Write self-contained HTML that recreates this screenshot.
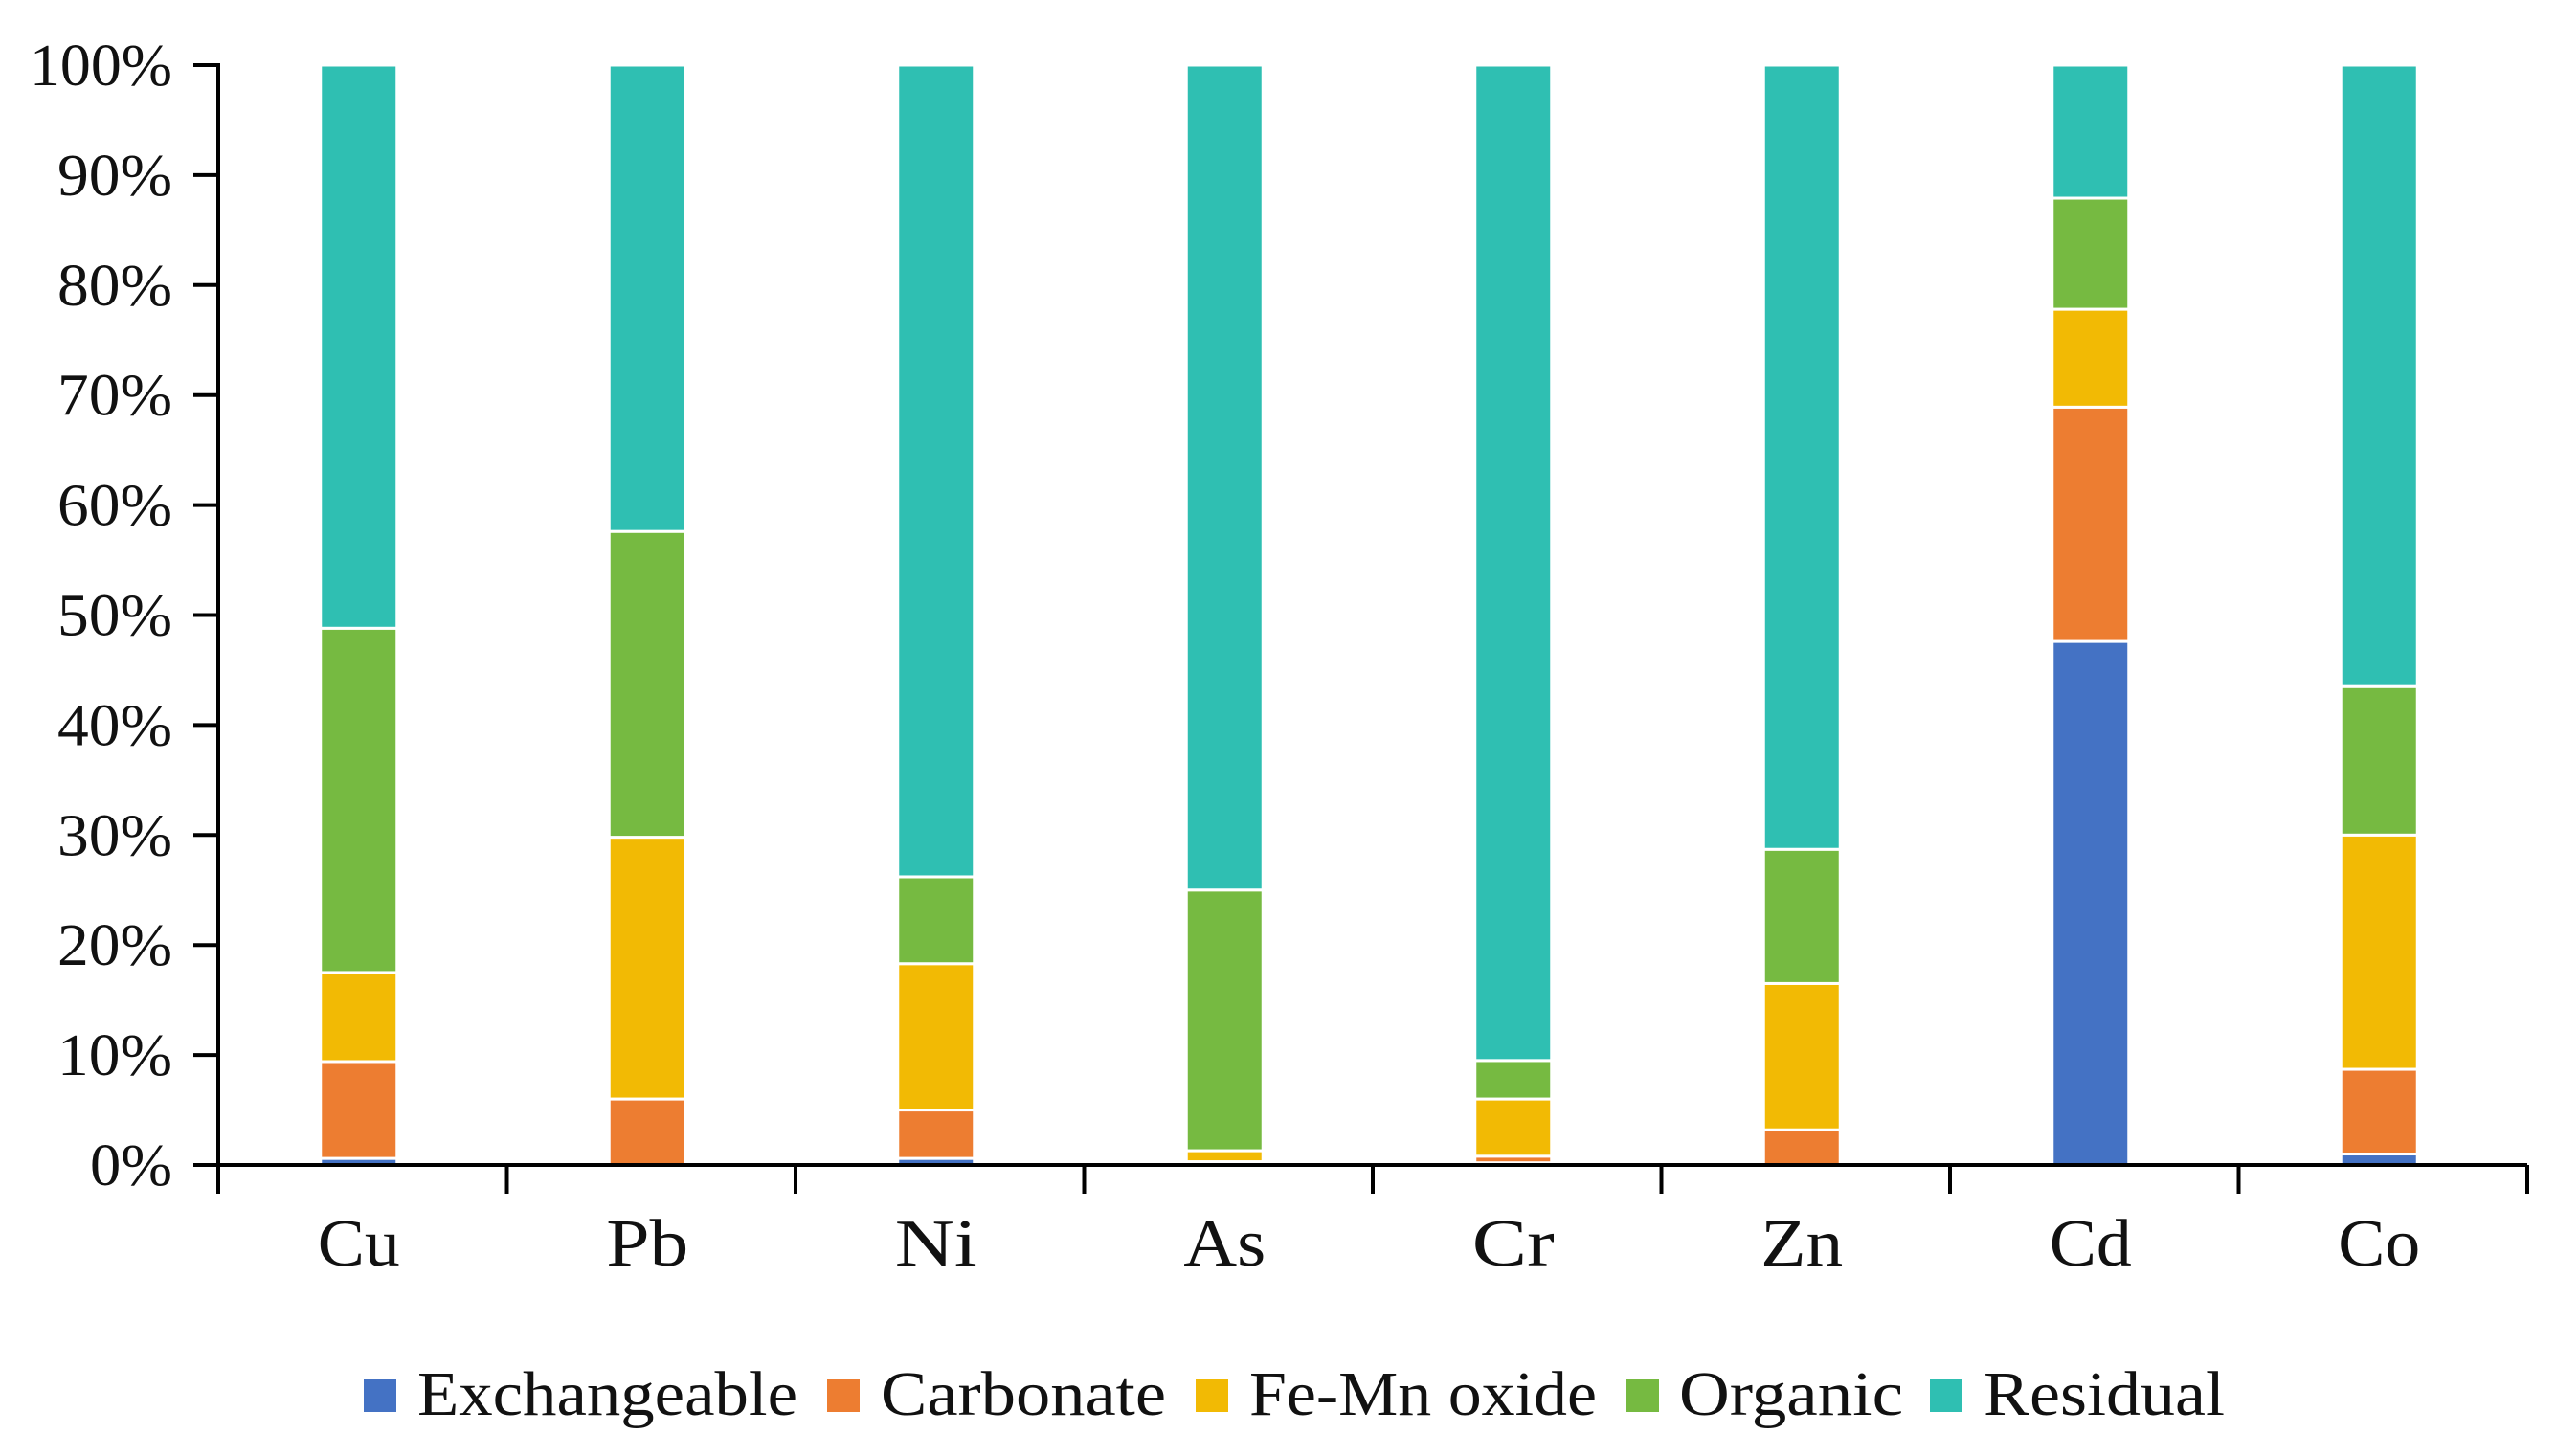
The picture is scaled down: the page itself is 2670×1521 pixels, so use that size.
<!DOCTYPE html>
<html><head><meta charset="utf-8"><style>
html,body{margin:0;padding:0;background:#fff;}
svg{display:block;}
text{font-family:"Liberation Serif",serif;fill:#111;}
</style></head><body>
<svg id="chart" width="2670" height="1521" viewBox="0 0 2670 1521" xmlns="http://www.w3.org/2000/svg">
<g id="bars"></g>
<g id="axes"></g>
<g id="legend"></g>
</svg>
<script>
const categories = ["Cu","Pb","Ni","As","Cr","Zn","Cd","Co"];
const seriesNames = ["Exchangeable","Carbonate","Fe-Mn oxide","Organic","Residual"];
const exchangeable = [0.6, 0.0, 0.6, 0.2, 0.2, 0.0, 47.6, 1.0];
const carbonate    = [8.8, 6.0, 4.4, 0.1, 0.6, 3.2, 21.3, 7.7];
const femnOxide    = [8.1, 23.8, 13.3, 1.0, 5.2, 13.3, 8.9, 21.3];
const organic      = [31.3, 27.8, 7.9, 23.7, 3.5, 12.2, 10.1, 13.5];
const residual     = [51.2, 42.4, 73.8, 75.0, 90.5, 71.3, 12.1, 56.5];
const yTicks = [0,10,20,30,40,50,60,70,80,90,100];
const colors = ["#4472C4","#ED7D31","#F2BA04","#76BA41","#2FBFB2"];
const series = [exchangeable, carbonate, femnOxide, organic, residual];

const NS = "http://www.w3.org/2000/svg";
const X0 = 228, X1 = 2640, Y0 = 1217, Y100 = 68;
const band = (X1 - X0) / categories.length;
const barW = 80;
function xCenter(i){ return X0 + band * (i + 0.5) - 4; }
function yScale(v){ return Y0 - (Y0 - Y100) * v / 100; }
function mk(tag, attrs, parent){ const e = document.createElementNS(NS, tag); for (const k in attrs) e.setAttribute(k, attrs[k]); parent.appendChild(e); return e; }

const bars = document.getElementById("bars");
categories.forEach((c, i) => {
  let cum = 0;
  series.forEach((s, j) => {
    const v = s[i];
    if (v <= 0) { return; }
    const yTop = yScale(cum + v), yBot = yScale(cum);
    const r = mk("rect", {x: xCenter(i) - barW/2, y: yTop, width: barW, height: yBot - yTop, fill: colors[j], stroke: "#fff", "stroke-width": 3}, bars);
    
    
    cum += v;
  });
});

const axes = document.getElementById("axes");
const ya = mk("line", {x1: X0, y1: Y100 - 2, x2: X0, y2: Y0 + 30, stroke: "#000", "stroke-width": 4}, axes);


const xa = mk("line", {x1: X0, y1: Y0, x2: X1, y2: Y0, stroke: "#000", "stroke-width": 4}, axes);


yTicks.forEach(t => {
  const y = yScale(t);
  const tk = mk("line", {x1: X0 - 26, y1: y, x2: X0, y2: y, stroke: "#000", "stroke-width": 4}, axes);
  
  
  const label = t + "%";
  const w = label.length === 4 ? 149 : (label.length === 3 ? 120 : 86);
  const tx = mk("text", {x: 180 - w, y: y + 21, "font-size": 62, textLength: w, lengthAdjust: "spacingAndGlyphs"}, axes);
  tx.textContent = label;
  
  
});
for (let i = 0; i <= categories.length; i++) {
  const x = X0 + band * i;
  const tk = mk("line", {x1: x, y1: Y0, x2: x, y2: Y0 + 30, stroke: "#000", "stroke-width": 4}, axes);
  
  
}
categories.forEach((c, i) => {
  const tx = mk("text", {x: xCenter(i), y: 1322, "text-anchor": "middle", "font-size": 70, textLength: 86, lengthAdjust: "spacingAndGlyphs"}, axes);
  tx.textContent = c;
  
  
});

const legend = document.getElementById("legend");
const legSq = [380, 864, 1249, 1699, 2016];
const legTx = [436, 920, 1305, 1754, 2072];
const legW = [397, 298, 363, 234, 252];
seriesNames.forEach((n, j) => {
  const sq = mk("rect", {x: legSq[j], y: 1441, width: 34, height: 34, fill: colors[j]}, legend);
  
  
  const tx = mk("text", {x: legTx[j], y: 1478, "font-size": 66, textLength: legW[j], lengthAdjust: "spacingAndGlyphs"}, legend);
  tx.textContent = n;
  
  
});
</script>
</body></html>
